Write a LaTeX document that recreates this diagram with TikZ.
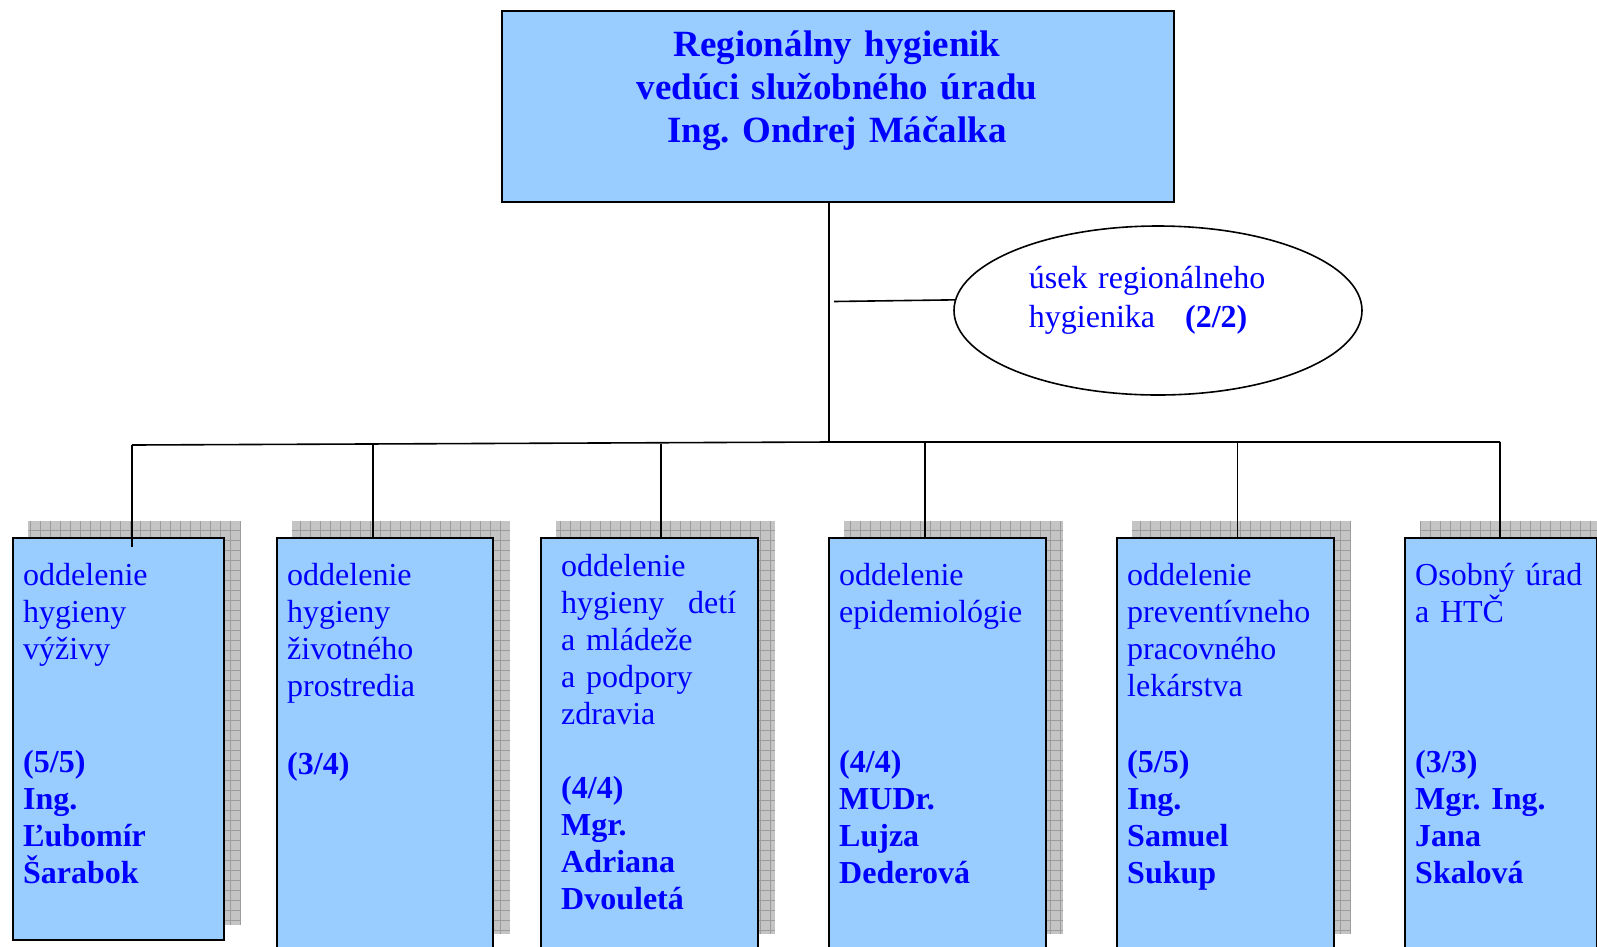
\documentclass[tikz,border=0pt]{standalone}
\usepackage{fontspec}
\setmainfont{Liberation Serif}
\frenchspacing
\usetikzlibrary{shapes.geometric,calc,backgrounds}
\definecolor{boxblue}{HTML}{99CCFF}
\definecolor{txtblue}{HTML}{0000FF}
\definecolor{shadowgray}{HTML}{C4C4C4}
\definecolor{gridgray}{HTML}{9C9C9C}
\begin{document}
\begin{tikzpicture}[x=1pt,y=-1pt,
  conn/.style={line width=1.6pt, draw=black},
  deptbox/.style={rectangle, draw=black, line width=1.8pt, fill=boxblue, inner sep=0pt, anchor=north west},
  nametext/.style={anchor=base west, inner sep=0pt, text width=#1, align=left, text=txtblue, font=\fontsize{32}{37}\selectfont\frenchspacing},
  nametext/.default=200pt,
  boldtext/.style={nametext, font=\fontsize{32}{37}\selectfont\bfseries\frenchspacing},
]
\useasboundingbox (0,0) rectangle (1597,946);
\clip (0,0) rectangle (1597,946);

% top box
\node[deptbox, minimum width=672pt, minimum height=191pt] (top) at (501,10) {};
\node[anchor=base, inner sep=0pt, text width=660pt, align=center, text=txtblue,
      font=\fontsize{37}{43}\selectfont\bfseries\frenchspacing] (toptext) at (837,56)
      {Regionálny hygienik\\vedúci služobného úradu\\Ing. Ondrej Máčalka};

% ellipse
\node[ellipse, draw=black, line width=1.6pt, minimum width=408pt, minimum height=169pt, inner sep=0pt] (ell) at (1158,310.5) {};
\node[nametext=320pt, font=\fontsize{32}{39}\selectfont] (elltext) at (1028.7,288)
      {úsek regionálneho\\hygienika\hspace{30pt}\textbf{(2/2)}};

% department boxes
\node[deptbox, minimum width=211pt, minimum height=402pt] (b1) at (12,537) {};
\node[deptbox, minimum width=216pt, minimum height=411pt] (b2) at (276,537) {};
\node[deptbox, minimum width=217pt, minimum height=411pt] (b3) at (540,537) {};
\node[deptbox, minimum width=217pt, minimum height=411pt] (b4) at (828,537) {};
\node[deptbox, minimum width=217pt, minimum height=411pt] (b5) at (1116,537) {};
\node[deptbox, minimum width=192pt, minimum height=411pt] (b6) at (1404,537) {};

% shadows
\begin{scope}[on background layer]
\foreach \b in {b1,b2,b3,b4,b5,b6}{
  \fill[shadowgray] ($(\b.north west)+(16,-16)$) rectangle ($(\b.south east)+(16,-16)$);
  \draw[gridgray, line width=0.6pt, step=10pt] ($(\b.north west)+(16,-16)$) grid ($(\b.south east)+(16,-16)$);
}
\end{scope}

% connectors
\coordinate (j1) at (132,445);
\coordinate (j2) at (373,444);
\coordinate (j3) at (661,443.5);
\coordinate (tr) at (829,442);
\coordinate (j4) at (925,442);
\coordinate (j5) at (1237.5,442);
\coordinate (j6) at (1500,442);
\coordinate (br) at (834,301.5);
\draw[conn] (tr |- top.south) -- (tr);
\draw[conn] (j1) -- (tr) -- (j6);
\draw[conn] (br) -- (ell.177);
\draw[conn] (j1) -- ($(j1 |- b1.north)+(0,10)$);
\draw[conn] (j2) -- (j2 |- b2.north);
\draw[conn] (j3) -- (j3 |- b3.north);
\draw[conn] (j4) -- (j4 |- b4.north);
\draw[conn] (j5) -- (j5 |- b5.north);
\draw[conn] (j6) -- (j6 |- b6.north);

% texts
\node[nametext] (n1) at ($(b1.north west)+(11,48)$) {oddelenie\\hygieny\\výživy};
\node[boldtext] (p1) at ($(b1.north west)+(11,235)$) {(5/5)\\Ing.\\Ľubomír\\Šarabok};

\node[nametext] (n2) at ($(b2.north west)+(11,48)$) {oddelenie\\hygieny\\životného\\prostredia};
\node[boldtext] (p2) at ($(b2.north west)+(11,237)$) {(3/4)};

\node[nametext] (n3) at ($(b3.north west)+(21,39)$) {oddelenie\\\leavevmode\makebox[175pt][s]{hygieny\hfill detí}\\a mládeže\\a podpory\\zdravia};
\node[boldtext] (p3) at ($(b3.north west)+(21,261)$) {(4/4)\\Mgr.\\Adriana\\Dvouletá};

\node[nametext] (n4) at ($(b4.north west)+(11,48)$) {oddelenie\\epidemiológie};
\node[boldtext] (p4) at ($(b4.north west)+(11,235)$) {(4/4)\\MUDr.\\Lujza\\Dederová};

\node[nametext] (n5) at ($(b5.north west)+(11,48)$) {oddelenie\\preventívneho\\pracovného\\lekárstva};
\node[boldtext] (p5) at ($(b5.north west)+(11,235)$) {(5/5)\\Ing.\\Samuel\\Sukup};

\node[nametext] (n6) at ($(b6.north west)+(11,48)$) {Osobný úrad\\a HTČ};
\node[boldtext] (p6) at ($(b6.north west)+(11,235)$) {(3/3)\\Mgr. Ing.\\Jana\\Skalová};
\end{tikzpicture}
\end{document}
